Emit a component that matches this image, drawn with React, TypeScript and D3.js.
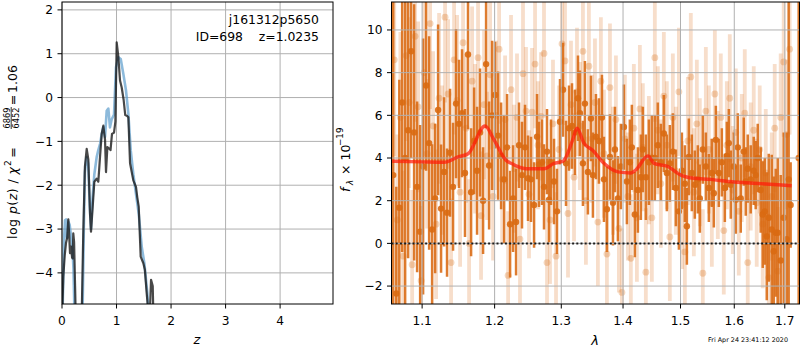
import * as d3 from "d3";

// ---- left panel: p(z) curves ----
const zTicks = [0, 1, 2, 3, 4];
const pzTicks = [-4, -3, -2, -1, 0, 1, 2];

// template fit curve (light blue)
const fitZ = [0.0, 0.02, 0.04, 0.055, 0.075, 0.09, 0.1, 0.116, 0.14, 0.16, 0.19, 0.21, 0.24, 0.3, 0.37, 0.4, 0.42, 0.45, 0.48, 0.51, 0.532, 0.56, 0.593, 0.636, 0.666, 0.7, 0.728, 0.758, 0.789, 0.82, 0.85, 0.88, 0.91, 0.954, 0.99, 1.034, 1.077, 1.125, 1.174, 1.217, 1.26, 1.308, 1.357, 1.407, 1.462, 1.51, 1.565, 1.6, 1.65];
const fitLogP = [-5.5, -4.3, -3.2, -2.8, -2.78, -3.2, -3.0, -2.83, -2.9, -3.1, -3.4, -3.9, -5.5, -6, -5.5, -3.0, -1.7, -1.36, -1.5, -2.5, -3.0, -2.3, -1.75, -1.36, -1.2, -1.05, -0.83, -0.68, -0.9, -0.3, -0.25, -0.68, -0.5, -0.39, 0.69, 0.92, 0.88, 0.54, 0.16, -0.37, -1.2, -1.75, -2.2, -2.65, -3.4, -3.78, -4.46, -5.2, -6];

// chi2 curve (dark)
const chiZ = [0.0, 0.012, 0.024, 0.05, 0.073, 0.095, 0.116, 0.13, 0.147, 0.165, 0.185, 0.196, 0.207, 0.222, 0.24, 0.26, 0.33, 0.361, 0.39, 0.42, 0.453, 0.483, 0.514, 0.532, 0.563, 0.593, 0.636, 0.666, 0.697, 0.728, 0.758, 0.789, 0.807, 0.832, 0.869, 0.89, 0.917, 0.954, 0.979, 1.003, 1.034, 1.064, 1.095, 1.13, 1.16, 1.195, 1.217, 1.248, 1.308, 1.357, 1.38, 1.407, 1.443, 1.492, 1.52, 1.553, 1.584, 1.6, 1.633, 1.664, 1.676, 1.69];
const chiLogP = [-5.5, -4.6, -4.08, -3.6, -3.32, -3.2, -2.78, -3.1, -3.55, -3.4, -3.65, -3.67, -3.1, -3.3, -4.3, -5.5, -6, -5.0, -3.1, -1.58, -1.17, -1.41, -2.65, -3.06, -2.49, -1.92, -1.85, -1.92, -1.36, -0.83, -0.64, -0.96, -1.7, -1.13, -1.17, -1.2, -0.83, -0.8, -0.55, 1.26, 0.92, 0.39, 0.23, -0.05, -0.4, -0.42, -0.45, -1.5, -1.89, -2.04, -2.27, -2.49, -3.63, -3.78, -3.93, -4.46, -4.9, -5.3, -4.16, -4.3, -5.0, -6];

// ---- right panel: spectrum ----
const lamTicks = [1.1, 1.2, 1.3, 1.4, 1.5, 1.6, 1.7];
const fluxTicks = [-2, 0, 2, 4, 6, 8, 10];

const darkLam = [1.0625, 1.0664, 1.0703, 1.074, 1.0778, 1.0817, 1.0856, 1.0895, 1.0934, 1.0974, 1.1013, 1.1053, 1.1093, 1.1133, 1.1173, 1.1213, 1.1253, 1.1294, 1.1334, 1.1375, 1.1416, 1.1457, 1.1498, 1.154, 1.1581, 1.1623, 1.1666, 1.1708, 1.175, 1.1792, 1.1835, 1.1878, 1.1921, 1.1964, 1.2007, 1.205, 1.2094, 1.2138, 1.2181, 1.2225, 1.2269, 1.2313, 1.2357, 1.2401, 1.2446, 1.2491, 1.2536, 1.2582, 1.2627, 1.2657, 1.2703, 1.2733, 1.2779, 1.281, 1.284, 1.2887, 1.2933, 1.298, 1.3027, 1.3074, 1.3121, 1.3168, 1.3215, 1.3263, 1.3294, 1.3342, 1.3374, 1.3422, 1.3471, 1.3503, 1.3552, 1.3601, 1.365, 1.3683, 1.3732, 1.3782, 1.3832, 1.3865, 1.3914, 1.3964, 1.4015, 1.4065, 1.4115, 1.4149, 1.42, 1.4252, 1.4303, 1.4337, 1.4389, 1.4441, 1.4493, 1.4545, 1.4597, 1.465, 1.4703, 1.4756, 1.4809, 1.4863, 1.4917, 1.4971, 1.5025, 1.5079, 1.5115, 1.5151, 1.5205, 1.526, 1.5315, 1.5352, 1.5407, 1.5463, 1.5519, 1.5575, 1.5612, 1.565, 1.5706, 1.5763, 1.582, 1.5858, 1.5896, 1.5933, 1.5991, 1.6029, 1.6068, 1.6125, 1.6183, 1.6222, 1.6261, 1.6319, 1.6378, 1.6417, 1.6457, 1.6516, 1.6556, 1.6596, 1.6636, 1.6676, 1.6736, 1.6776, 1.6816, 1.6857, 1.6917, 1.6978, 1.7039, 1.708, 1.712, 1.7286];
const darkFlux = [3.2, -2.35, 1.67, 6.6, 4.0, 5.3, 9.0, 5.2, 2.65, 0.55, 3.6, 7.4, 4.7, 0.65, 2.1, 6.25, 1.63, 3.35, 1.44, 4.25, 2.65, 6.55, 5.6, 6.1, 3.3, 8.85, 2.4, 4.8, 3.4, 5.2, 2.0, 8.4, 3.65, 6.0, 6.95, 5.05, 4.1, 3.0, 4.5, 0.9, 2.1, 1.0, 4.6, 3.2, 4.5, 3.05, 3.0, 1.8, 5.0, 3.7, 3.8, 2.65, 4.3, 2.05, 3.8, 2.9, 1.5, 5.7, 7.2, 3.75, 5.4, 5.5, 5.2, 6.8, 6.1, 3.75, 6.55, 3.35, 5.85, 3.2, 5.0, 4.8, 5.9, 3.0, 1.6, 4.05, 1.9, 4.4, 2.1, 3.6, 5.45, 2.9, 3.8, 4.5, 1.35, 2.5, 3.1, 4.4, 3.1, 3.8, 4.0, 4.0, 4.6, 3.8, 5.15, 3.3, 3.75, 4.3, 2.6, 1.5, 3.4, 2.8, 0.8, 4.05, 3.3, 2.75, 3.0, 2.1, 4.4, 3.6, 2.6, 3.3, 2.35, 4.85, 3.3, 3.8, 2.6, 4.1, 4.7, 2.75, 3.6, 2.05, 4.5, 2.1, 4.3, 2.9, 3.5, 3.0, 3.4, 3.2, 4.0, 2.5, 1.35, 1.5, 0.33, 1.2, 0.65, -0.37, 0.5, 0.5, -0.8, 1.2, 0.2, 3.0, 1.8, 4.0];
const darkErr = [9, 5, 6, 7, 8, 6, 5, 6, 4, 5, 6, 4, 5, 4, 3.5, 4, 3, 3.5, 3, 3, 3, 3.5, 3, 3, 3, 3.5, 3, 2.5, 3, 3, 2.5, 3, 3, 3.5, 2.5, 3, 2.5, 3, 2.5, 2.5, 2.5, 2.5, 2, 2.5, 2, 2, 2, 2, 2, 2, 2, 2, 2, 2, 2, 2, 2, 2, 2.2, 2, 2, 2, 2, 2, 2, 2, 2, 2, 2, 2, 2, 2, 2, 2, 2, 2, 2, 2, 2, 2, 2, 2, 2, 2, 2, 2, 2, 2, 2, 2, 2, 2, 2, 1.8, 1.8, 1.8, 1.8, 1.8, 1.8, 1.8, 1.8, 1.8, 1.8, 1.8, 1.8, 1.6, 1.6, 1.6, 1.6, 1.6, 1.6, 1.6, 1.6, 1.6, 1.6, 1.6, 1.6, 1.6, 1.6, 1.6, 1.6, 1.6, 1.6, 1.6, 1.6, 1.6, 1.6, 1.6, 1.6, 1.6, 1.6, 2, 2.5, 2.5, 3, 3, 3.5, 3.5, 3, 3.5, 4, 4, 5, 9, 2, 9];

const lightLam = [1.0638, 1.0677, 1.0716, 1.0753, 1.0791, 1.083, 1.0869, 1.0908, 1.0947, 1.0987, 1.1026, 1.1066, 1.1106, 1.1146, 1.1186, 1.1226, 1.1267, 1.1307, 1.1348, 1.1389, 1.143, 1.1471, 1.1513, 1.1554, 1.1596, 1.1638, 1.168, 1.1722, 1.1764, 1.1806, 1.1849, 1.1892, 1.1935, 1.1978, 1.2021, 1.2065, 1.2109, 1.2152, 1.2196, 1.2239, 1.2283, 1.2327, 1.2371, 1.2416, 1.2461, 1.2506, 1.2551, 1.2597, 1.2642, 1.2687, 1.2733, 1.2779, 1.2825, 1.2871, 1.2918, 1.2964, 1.3011, 1.3058, 1.3105, 1.3152, 1.32, 1.3247, 1.3294, 1.3342, 1.339, 1.3438, 1.3487, 1.3536, 1.3584, 1.3633, 1.3683, 1.3732, 1.3782, 1.3832, 1.3881, 1.3931, 1.3981, 1.4031, 1.4082, 1.4132, 1.4183, 1.4235, 1.4286, 1.4337, 1.4389, 1.4441, 1.4493, 1.4545, 1.4597, 1.465, 1.4703, 1.4756, 1.4809, 1.4863, 1.4917, 1.4971, 1.5025, 1.5079, 1.5133, 1.5187, 1.5242, 1.5297, 1.5352, 1.5407, 1.5463, 1.5519, 1.5575, 1.5631, 1.5687, 1.5743, 1.58, 1.5858, 1.5914, 1.5972, 1.6029, 1.6087, 1.6145, 1.6203, 1.6261, 1.6319, 1.6378, 1.6437, 1.6496, 1.6556, 1.6616, 1.6676, 1.6736, 1.6796, 1.6857, 1.6917, 1.6978, 1.7039, 1.71];
const lightFlux = [8.6, 1.1, 5.9, -0.6, 8.8, 6.6, -1.0, 9.7, 6.4, -1.75, 8.0, 4.2, 10.3, 5.5, 0.9, 6.8, 3.9, 10.6, 7.0, -0.9, 8.6, 6.7, 2.4, 9.4, 5.4, 0.0, 7.6, 4.9, 8.7, 1.3, 6.5, 4.1, 7.9, 2.2, 6.0, 9.1, 3.0, 5.8, -1.5, 7.2, 3.5, 5.9, 0.2, 7.95, 6.2, 2.3, 6.15, 8.4, 4.6, 5.95, 8.9, -0.9, 1.1, 5.6, -0.6, 4.4, 9.35, 8.55, 1.4, 6.5, 3.1, 7.1, 5.5, 9.0, 2.0, 8.3, 4.9, 6.6, 1.0, 7.6, 4.2, -0.5, 7.3, 3.4, 5.8, 0.7, -2.3, 4.9, 2.2, -0.7, 5.4, 1.2, 6.3, 4.5, -1.35, 3.9, 1.2, 8.7, 5.3, 2.8, 6.9, 4.6, 0.3, 5.9, 3.4, 7.1, 1.8, -0.4, 4.8, 7.8, 2.4, 5.6, 3.8, -1.4, 6.2, 4.4, 1.9, 7.0, 3.2, 5.9, 0.6, 4.6, 6.8, 2.5, 5.2, 1.5, 4.0, 6.1, -0.9, 3.6, 5.3, 1.9, 4.4, 0.9, 3.3, -1.6, 2.2, 5.4, -1.3, 5.9, 8.5, 5.1, 9.1];
const lightErr = [4.5, 4, 4, 4, 4, 4, 3.5, 4, 4, 3.5, 4, 3.5, 4, 3.5, 3.5, 4, 3.5, 4, 3.5, 3, 3.5, 4, 3.5, 4, 3.5, 3, 3.5, 3.5, 3.5, 3, 3.5, 3, 3.5, 3, 3.5, 3.5, 3, 3, 3, 3.5, 3, 3, 3, 3.5, 3, 3, 3, 3, 3, 3, 3, 3, 3, 3, 3, 3, 3.5, 3, 3, 3, 3, 3, 3, 3, 3, 3, 3, 3, 3, 3, 3, 3, 3, 3, 3, 3, 3, 3, 3, 3, 3, 3, 3, 3, 3, 3, 3, 3, 3, 3, 3, 3, 3, 3, 3, 3, 3, 3, 3, 3, 3, 3, 3, 3, 3, 3, 3, 3, 3, 3, 3, 3, 3, 3, 3, 3, 3, 3, 3, 3, 3, 3, 3, 3, 3, 3, 3, 3, 3, 3, 3.5, 3.5, 4, 4];

// best-fit model (red)
const modelLam = [1.0612, 1.1, 1.1294, 1.1485, 1.1624, 1.1863, 1.1992, 1.2165, 1.2239, 1.2461, 1.2733, 1.2887, 1.3027, 1.3179, 1.3247, 1.3358, 1.3503, 1.3683, 1.3914, 1.4134, 1.4219, 1.4425, 1.4529, 1.4775, 1.5007, 1.5242, 1.5557, 1.5878, 1.6516, 1.7141];
const modelFlux = [3.85, 3.82, 3.8, 4.05, 4.2, 5.5, 4.85, 3.9, 3.75, 3.5, 3.5, 3.75, 3.85, 4.85, 5.4, 4.7, 4.35, 3.75, 3.35, 3.3, 3.45, 4.1, 3.75, 3.6, 3.2, 3.05, 3.0, 2.9, 2.8, 2.7];

const FONT = "DejaVu Sans, sans-serif";
const GRID = "#b0b0b0";
const ORANGE = "#d96a12";

const fmt = (v: number) => (v < 0 ? `\u2212${Math.abs(v)}` : `${v}`);

function PzPanel() {
  const x = d3.scaleLinear().domain([0, 4.97]).range([62, 333]);
  const y = d3.scaleLinear().domain([-4.71, 2.18]).range([304, 2]);
  const [x0, x1] = x.range();
  const [y0, y1] = y.range();
  const line = d3
    .line<[number, number]>()
    .x((d) => x(d[0]))
    .y((d) => y(d[1]));
  const fitPts = fitZ.map((z, i) => [z, fitLogP[i]] as [number, number]);
  const chiPts = chiZ.map((z, i) => [z, chiLogP[i]] as [number, number]);
  return (
    <g>
      <defs>
        <clipPath id="clipL">
          <rect x={x0} y={y1} width={x1 - x0} height={y0 - y1} />
        </clipPath>
      </defs>
      {zTicks.map((t) => (
        <line key={t} x1={x(t)} x2={x(t)} y1={y1} y2={y0} stroke={GRID} strokeWidth={1} />
      ))}
      {pzTicks.map((t) => (
        <line key={t} x1={x0} x2={x1} y1={y(t)} y2={y(t)} stroke={GRID} strokeWidth={1} />
      ))}
      <g clipPath="url(#clipL)" fill="none" strokeLinejoin="round">
        <path d={line(fitPts) ?? ""} stroke="#5d9ccc" strokeOpacity={0.7} strokeWidth={2.6} />
        <path d={line(chiPts) ?? ""} stroke="#1a1a1a" strokeOpacity={0.8} strokeWidth={2.2} />
      </g>
      <rect x={x0} y={y1} width={x1 - x0} height={y0 - y1} fill="none" stroke="black" strokeWidth={1} />
      {zTicks.map((t) => (
        <g key={t}>
          <line x1={x(t)} x2={x(t)} y1={y0} y2={y0 + 4.5} stroke="black" />
          <text x={x(t)} y={325} textAnchor="middle" fontSize={12.2}>
            {fmt(t)}
          </text>
        </g>
      ))}
      {pzTicks.map((t) => (
        <g key={t}>
          <line x1={x0 - 4.5} x2={x0} y1={y(t)} y2={y(t)} stroke="black" />
          <text x={x0 - 9} y={y(t) + 4.4} textAnchor="end" fontSize={12.2}>
            {fmt(t)}
          </text>
        </g>
      ))}
      <text x={197} y={344} textAnchor="middle" fontSize={13} fontStyle="italic">
        z
      </text>
      <text x={319} y={24} textAnchor="end" fontSize={12.4}>
        j161312p5650
      </text>
      <text x={319} y={40.7} textAnchor="end" fontSize={12.4} style={{ whiteSpace: "pre" }}>
        {"ID=698    z=1.0235"}
      </text>
      {/* y label with fraction */}
      <g transform="translate(16.5,150) rotate(-90)" fontSize={12.5}>
        <text x={-89} y={0} textLength={72} lengthAdjust="spacing">
          log <tspan fontStyle="italic">p</tspan>(<tspan fontStyle="italic">z</tspan>) / <tspan fontStyle="italic">χ</tspan>
        </text>
        <text x={-16} y={-6} fontSize={9}>
          2
        </text>
        <text x={-2.5} y={0} textAnchor="middle">
          =
        </text>
        <text x={32} y={-7} textAnchor="middle" fontSize={8.2}>
          6869
        </text>
        <line x1={21} x2={43} y1={-5.3} y2={-5.3} stroke="black" strokeWidth={0.8} />
        <text x={32} y={2.8} textAnchor="middle" fontSize={8.2}>
          6452
        </text>
        <text x={50} y={0} textAnchor="middle">
          =
        </text>
        <text x={57} y={0}>
          1.06
        </text>
      </g>
    </g>
  );
}

function SpecPanel() {
  const x = d3.scaleLog().domain([1.0603, 1.7303]).range([391.5, 799.5]);
  const y = d3.scaleLinear().domain([-2.84, 11.31]).range([304, 2]);
  const [x0, x1] = x.range();
  const [y0, y1] = y.range();
  const model = d3
    .line<number>()
    .x((_, i) => x(modelLam[i]))
    .y((d) => y(d))
    .curve(d3.curveMonotoneX);
  return (
    <g>
      <defs>
        <clipPath id="clipR">
          <rect x={x0} y={y1} width={x1 - x0} height={y0 - y1} />
        </clipPath>
      </defs>
      <g clipPath="url(#clipR)">
        <g stroke={ORANGE} strokeOpacity={0.22} strokeWidth={3.8}>
          {lightLam.map((l, i) => (
            <line key={i} x1={x(l)} x2={x(l)} y1={y(lightFlux[i] - lightErr[i])} y2={y(lightFlux[i] + lightErr[i])} />
          ))}
        </g>
        <g fill={ORANGE} fillOpacity={0.28}>
          {lightLam.map((l, i) => (
            <circle key={i} cx={x(l)} cy={y(lightFlux[i])} r={3.4} />
          ))}
        </g>
        <g stroke={ORANGE} strokeOpacity={0.88} strokeWidth={2.5}>
          {darkLam.map((l, i) => (
            <line key={i} x1={x(l)} x2={x(l)} y1={y(darkFlux[i] - darkErr[i])} y2={y(darkFlux[i] + darkErr[i])} />
          ))}
        </g>
        <g fill={ORANGE} fillOpacity={0.9}>
          {darkLam.map((l, i) => (
            <circle key={i} cx={x(l)} cy={y(darkFlux[i])} r={3.2} />
          ))}
        </g>
        {lamTicks.map((t) => (
          <line key={t} x1={x(t)} x2={x(t)} y1={y1} y2={y0} stroke={GRID} strokeWidth={1} />
        ))}
        {fluxTicks.map((t) => (
          <line key={t} x1={x0} x2={x1} y1={y(t)} y2={y(t)} stroke={GRID} strokeWidth={1} />
        ))}
        <path d={model(modelFlux) ?? ""} fill="none" stroke="#ff1a0a" strokeOpacity={0.72} strokeWidth={3.4} />
        <line x1={x0} x2={x1} y1={y(0)} y2={y(0)} stroke="black" strokeWidth={2} strokeDasharray="2,2.2" strokeOpacity={0.85} />
      </g>
      <rect x={x0} y={y1} width={x1 - x0} height={y0 - y1} fill="none" stroke="black" strokeWidth={1} />
      {lamTicks.map((t) => (
        <g key={t}>
          <line x1={x(t)} x2={x(t)} y1={y0} y2={y0 + 4.5} stroke="black" />
          <text x={x(t)} y={325} textAnchor="middle" fontSize={12.2}>
            {t.toFixed(1)}
          </text>
        </g>
      ))}
      {fluxTicks.map((t) => (
        <g key={t}>
          <line x1={x0 - 4.5} x2={x0} y1={y(t)} y2={y(t)} stroke="black" />
          <text x={x0 - 9} y={y(t) + 4.4} textAnchor="end" fontSize={12.2}>
            {fmt(t)}
          </text>
        </g>
      ))}
      <text x={595} y={345} textAnchor="middle" fontSize={13} fontStyle="italic">
        λ
      </text>
      <g transform="translate(349.5,156) rotate(-90)" fontSize={12.5}>
        <text x={-36} y={0} fontStyle="italic">
          f
        </text>
        <text x={-29} y={3} fontSize={8.8} fontStyle="italic">
          λ
        </text>
        <text x={-19} y={0}>
          × 10
        </text>
        <text x={10} y={-6.5} fontSize={8.8}>
          −19
        </text>
      </g>
      <text x={788} y={341.5} textAnchor="end" fontSize={6.4}>
        Fri Apr 24 23:41:12 2020
      </text>
    </g>
  );
}

export default function App() {
  return (
    <svg
      width={800}
      height={350}
      style={{ position: "absolute", left: 0, top: 0, background: "white" }}
      fontFamily={FONT}
    >
      <PzPanel />
      <SpecPanel />
    </svg>
  );
}
